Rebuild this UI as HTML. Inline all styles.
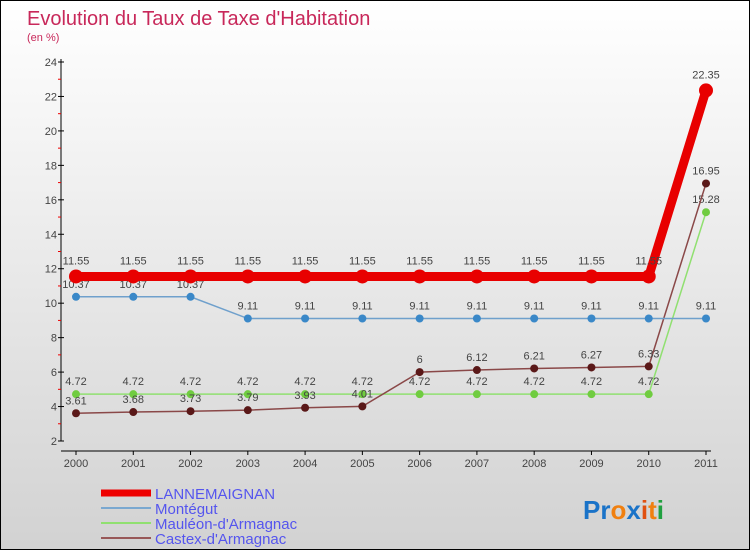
<!DOCTYPE html>
<html><head><meta charset="utf-8"><style>
body{margin:0}
#c{width:750px;height:550px;position:relative;box-sizing:border-box;border:1px solid #000;background:linear-gradient(#fff,#d2d2d2);font-family:"Liberation Sans",sans-serif;overflow:hidden}
</style></head><body>
<div id="c">
<svg id="s" width="748" height="548" style="position:absolute;left:0;top:0">
<text x="26" y="24" font-size="20" fill="#c8285a">Evolution du Taux de Taxe d'Habitation</text>
<text x="26" y="40" font-size="11" fill="#c8285a">(en %)</text>
<g id="g"></g>
<g>
<line x1="100" y1="492" x2="150" y2="492" stroke="#e00" stroke-width="7"/>
<text x="154" y="498" font-size="15" fill="#5555ee">LANNEMAIGNAN</text>
<line x1="100" y1="507" x2="150" y2="507" stroke="#7aa8d0" stroke-width="2"/>
<text x="154" y="513" font-size="15" fill="#5555ee">Montégut</text>
<line x1="100" y1="522" x2="150" y2="522" stroke="#90e070" stroke-width="2"/>
<text x="154" y="528" font-size="15" fill="#5555ee">Mauléon-d'Armagnac</text>
<line x1="100" y1="537" x2="150" y2="537" stroke="#985858" stroke-width="2"/>
<text x="154" y="543" font-size="15" fill="#5555ee">Castex-d'Armagnac</text>
</g>
<text x="582" y="518" font-size="26" font-weight="bold"><tspan fill="#1a73c8">Pr</tspan><tspan fill="#f08010">o</tspan><tspan fill="#1a73c8">x</tspan><tspan fill="#e05010">i</tspan><tspan fill="#f08010">t</tspan><tspan fill="#20a040">i</tspan></text>
</svg>
</div>
<script>
const years=[2000,2001,2002,2003,2004,2005,2006,2007,2008,2009,2010,2011];
const yTicks=[2,4,6,8,10,12,14,16,18,20,22,24];
const lannemaignan=[11.55,11.55,11.55,11.55,11.55,11.55,11.55,11.55,11.55,11.55,11.55,22.35];
const montegut=[10.37,10.37,10.37,9.11,9.11,9.11,9.11,9.11,9.11,9.11,9.11,9.11];
const mauleon=[4.72,4.72,4.72,4.72,4.72,4.72,4.72,4.72,4.72,4.72,4.72,15.28];
const castex=[3.61,3.68,3.73,3.79,3.93,4.01,6,6.12,6.21,6.27,6.33,16.95];
const NS="http://www.w3.org/2000/svg";
const g=document.getElementById('g');
const X=i=>75+i*(630/11);
const Y=v=>440-(v-2)*(379/22);
function mk(t,a,p){const e=document.createElementNS(NS,t);for(const k in a)e.setAttribute(k,a[k]);(p||g).appendChild(e);return e;}
function lab(x,y,s,anchor){const t=mk('text',{x:x,y:y,'font-size':11,fill:'#444','text-anchor':anchor||'middle'});t.textContent=s;return t;}
const ax=mk('line',{x1:60,y1:58,x2:60,y2:440,stroke:'#000'});


const xa=mk('line',{x1:60,y1:450,x2:710,y2:450,stroke:'#000'});


yTicks.forEach(v=>{
  mk('line',{x1:57,y1:Y(v),x2:63,y2:Y(v),stroke:'#000'});
  if(v<24)mk('line',{x1:57,y1:Y(v+1),x2:60,y2:Y(v+1),stroke:'#e00'});
  const t=lab(56,Y(v)+4,String(v),'end');
  
  
});
years.forEach((yr,i)=>{
  mk('line',{x1:X(i),y1:450,x2:X(i),y2:454,stroke:'#000'});
  const t=lab(X(i),466,String(yr));
  
  
});
function series(data,color,w,r,dot,name,fmt){
  const pl=mk('polyline',{points:data.map((v,i)=>X(i)+','+Y(v)).join(' '),fill:'none',stroke:color,'stroke-width':w});
  
  
  data.forEach((v,i)=>{
    const c=mk('circle',{cx:X(i),cy:Y(v),r:r,fill:dot});
    
    
    const t=lab(X(i),Y(v)-r-5,String(v));
    
    
  });
}
series(mauleon,'#90e070',1.5,4,'#70cc40','mauleon');
series(castex,'#8a4848',1.5,4,'#5a1818','castex');
series(montegut,'#6fa0cc',1.5,4,'#3a88c8','montegut');
series(lannemaignan,'#e80000',9,7,'#e80000','lannemaignan');
</script>
</body></html>
